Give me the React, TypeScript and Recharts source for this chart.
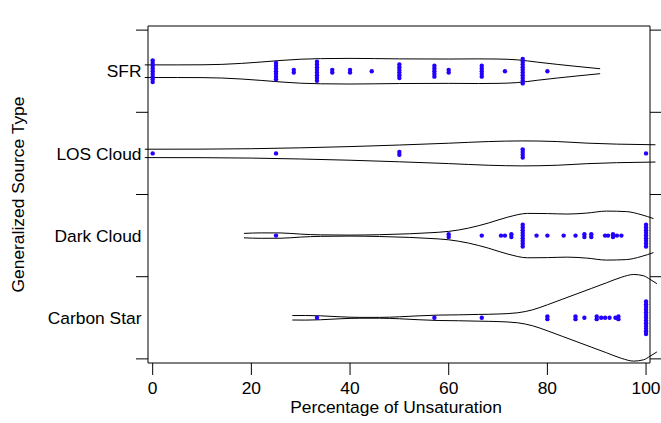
import React from 'react';
import { ComposedChart, Line, Scatter, XAxis, YAxis } from 'recharts';

// Source types, bottom to top (placed at y = 1..4)
const categories = ['Carbon Star', 'Dark Cloud', 'LOS Cloud', 'SFR'];

const xTicks = [0, 20, 40, 60, 80, 100];
const yTicks = [0.5, 1, 1.5, 2, 2.5, 3, 3.5, 4, 4.5];
const yBreaks = [0.5, 1.5, 2.5, 3.5, 4.5];

// Violin outlines: unsaturation (%) and half-width of the density band (category units)
const sfrOutline = [
  { x: -1.6, w: 0.077 }, { x: 5, w: 0.077 }, { x: 10, w: 0.078 }, { x: 14, w: 0.083 },
  { x: 18, w: 0.095 }, { x: 22, w: 0.112 }, { x: 26, w: 0.131 }, { x: 30, w: 0.146 },
  { x: 34, w: 0.153 }, { x: 40, w: 0.156 }, { x: 50, w: 0.15 }, { x: 60, w: 0.148 },
  { x: 66, w: 0.15 }, { x: 70, w: 0.148 }, { x: 74, w: 0.138 }, { x: 78, w: 0.11 },
  { x: 82, w: 0.083 }, { x: 86, w: 0.058 }, { x: 90.7, w: 0.03 },
];
const losOutline = [
  { x: -1.6, w: 0.051 }, { x: 10, w: 0.052 }, { x: 20, w: 0.057 }, { x: 30, w: 0.068 },
  { x: 40, w: 0.083 }, { x: 50, w: 0.102 }, { x: 60, w: 0.124 }, { x: 68, w: 0.144 },
  { x: 75, w: 0.152 }, { x: 82, w: 0.144 }, { x: 88, w: 0.125 }, { x: 94, w: 0.113 },
  { x: 101.9, w: 0.105 },
];
const darkOutline = [
  { x: 18.5, w: 0.027 }, { x: 22, w: 0.033 }, { x: 26, w: 0.032 }, { x: 30, w: 0.018 },
  { x: 34, w: 0.009 }, { x: 40, w: 0.006 }, { x: 46, w: 0.011 }, { x: 52, w: 0.022 },
  { x: 56, w: 0.034 }, { x: 60, w: 0.051 }, { x: 64, w: 0.091 }, { x: 68, w: 0.152 },
  { x: 72, w: 0.225 }, { x: 76, w: 0.27 }, { x: 80, w: 0.268 }, { x: 84, w: 0.262 },
  { x: 88, w: 0.274 }, { x: 92, w: 0.298 }, { x: 96, w: 0.292 }, { x: 99, w: 0.255 },
  { x: 101.5, w: 0.207 },
];
const carbonOutline = [
  { x: 28.3, w: 0.027 }, { x: 31, w: 0.028 }, { x: 34, w: 0.024 }, { x: 38, w: 0.012 },
  { x: 42, w: 0.005 }, { x: 46, w: 0.005 }, { x: 50, w: 0.012 }, { x: 54, w: 0.024 },
  { x: 58, w: 0.033 }, { x: 62, w: 0.036 }, { x: 66, w: 0.041 }, { x: 70, w: 0.046 },
  { x: 74, w: 0.061 }, { x: 77, w: 0.097 }, { x: 80, w: 0.158 }, { x: 83, w: 0.225 },
  { x: 86, w: 0.292 }, { x: 89, w: 0.359 }, { x: 92, w: 0.426 }, { x: 95, w: 0.493 },
  { x: 97.5, w: 0.527 }, { x: 99.5, w: 0.511 }, { x: 100.8, w: 0.468 }, { x: 102.2, w: 0.415 },
];

// Observed values: unsaturation (%) and number of sources at that value
const sfrValues = [
  { x: 0, n: 9 }, { x: 25, n: 7 }, { x: 28.6, n: 2 }, { x: 33.3, n: 8 }, { x: 36.4, n: 2 },
  { x: 40, n: 2 }, { x: 44.4, n: 1 }, { x: 50, n: 6 }, { x: 57.1, n: 5 }, { x: 60, n: 2 },
  { x: 66.7, n: 5 }, { x: 71.4, n: 1 }, { x: 75, n: 10 }, { x: 80, n: 1 },
];
const losValues = [
  { x: 0, n: 1 }, { x: 25, n: 1 }, { x: 50, n: 2 }, { x: 75, n: 4 }, { x: 100, n: 1 },
];
const darkValues = [
  { x: 25, n: 1 }, { x: 60, n: 2 }, { x: 66.7, n: 1 }, { x: 70.6, n: 1 }, { x: 71.4, n: 1 },
  { x: 72.7, n: 2 }, { x: 75, n: 9 }, { x: 77.8, n: 1 }, { x: 80, n: 1 }, { x: 83.3, n: 1 },
  { x: 85.7, n: 1 }, { x: 87.5, n: 2 }, { x: 88.9, n: 2 }, { x: 91.7, n: 1 }, { x: 92.3, n: 1 },
  { x: 93.3, n: 2 }, { x: 94.1, n: 1 }, { x: 95, n: 1 }, { x: 100, n: 9 },
];
const carbonValues = [
  { x: 33.3, n: 1 }, { x: 57.1, n: 1 }, { x: 66.7, n: 1 }, { x: 80, n: 2 }, { x: 85.7, n: 2 },
  { x: 87.5, n: 1 }, { x: 90, n: 2 }, { x: 90.9, n: 1 }, { x: 91.7, n: 1 }, { x: 92.6, n: 1 },
  { x: 93.8, n: 1 }, { x: 94.4, n: 2 }, { x: 100, n: 13 },
];

const groups = [
  { outline: carbonOutline, values: carbonValues },
  { outline: darkOutline, values: darkValues },
  { outline: losOutline, values: losValues },
  { outline: sfrOutline, values: sfrValues },
];

const X_DOMAIN: [number, number] = [-0.95, 100.8];
const Y_DOMAIN: [number, number] = [0.45, 4.55];
const STACK_STEP = 0.033; // vertical spacing of tied values
const POINT_COLOR = '#2200ff';
const FONT = "'Liberation Sans', Arial, Helvetica, sans-serif";
const FONT_SIZE = 17.4;

const edge = (center: number, pts: { x: number; w: number }[], side: number) =>
  pts.map((p) => ({ x: p.x, y: center + side * p.w }));

const stacked = (center: number, pts: { x: number; n: number }[]) => {
  const out: { x: number; y: number }[] = [];
  pts.forEach((p) => {
    for (let i = 0; i < p.n; i++) out.push({ x: p.x, y: center + (i - (p.n - 1) / 2) * STACK_STEP });
  });
  return out;
};

const BottomTick = (p: any) => (
  <g>
    <line x1={p.x} y1={p.y} x2={p.x} y2={p.y + 12} stroke="#000" />
    <text x={p.x} y={p.y + 30.5} textAnchor="middle" fontFamily={FONT} fontSize={FONT_SIZE} fill="#000">
      {p.payload.value}
    </text>
  </g>
);

const TopTick = (p: any) => <line x1={p.x} y1={p.y} x2={p.x} y2={p.y - 13} stroke="#000" />;

const LeftTick = (p: any) => {
  const v = p.payload.value;
  if (Number.isInteger(v)) {
    return (
      <text x={p.x - 6.5} y={p.y + 6.2} textAnchor="end" fontFamily={FONT} fontSize={FONT_SIZE} fill="#000">
        {categories[v - 1]}
      </text>
    );
  }
  return <line x1={p.x - 12} y1={p.y} x2={p.x} y2={p.y} stroke="#000" />;
};

const RightTick = (p: any) => <line x1={p.x} y1={p.y} x2={p.x + 11} y2={p.y} stroke="#000" />;

const XTitle = (p: any) => {
  const vb = p.viewBox || { x: 140, y: 355, width: 502, height: 60 };
  return (
    <text x={vb.x + vb.width / 2 - 3} y={vb.y + 50} textAnchor="middle" fontFamily={FONT} fontSize={FONT_SIZE} fill="#000">
      Percentage of Unsaturation
    </text>
  );
};

const YTitle = (p: any) => {
  const vb = p.viewBox || { x: 0, y: 18, width: 140, height: 337 };
  const x = vb.x + 16.2;
  const y = vb.y + vb.height / 2;
  return (
    <text x={x} y={y} transform={`rotate(-90, ${x}, ${y})`} textAnchor="middle" fontFamily={FONT} fontSize={FONT_SIZE} fill="#000">
      Generalized Source Type
    </text>
  );
};

const Point = (p: any) => <circle cx={p.cx} cy={p.cy} r={2.2} fill={POINT_COLOR} />;

export default function App() {
  return (
    <div style={{ position: 'absolute', left: 8, top: 8 }}>
      <style>{`html { overflow: hidden; } .violin-edge, .violin-edge * { clip-path: none !important; }`}</style>
      <ComposedChart width={653} height={415} margin={{ top: 0, right: 0, bottom: 0, left: 0 }}>
        <XAxis
          xAxisId="b"
          type="number"
          dataKey="x"
          domain={X_DOMAIN}
          allowDataOverflow
          ticks={xTicks}
          interval={0}
          height={60}
          axisLine={{ stroke: '#000' }}
          tickLine={false}
          tickSize={0}
          tickMargin={0}
          tick={BottomTick}
          label={XTitle}
        />
        <XAxis
          xAxisId="t"
          orientation="top"
          type="number"
          domain={X_DOMAIN}
          allowDataOverflow
          ticks={xTicks}
          interval={0}
          height={18}
          axisLine={{ stroke: '#000' }}
          tickLine={false}
          tickSize={0}
          tickMargin={0}
          tick={TopTick}
        />
        <YAxis
          yAxisId="l"
          type="number"
          dataKey="y"
          domain={Y_DOMAIN}
          allowDataOverflow
          ticks={yTicks}
          interval={0}
          width={140}
          axisLine={{ stroke: '#000' }}
          tickLine={false}
          tickSize={0}
          tickMargin={0}
          tick={LeftTick}
          label={YTitle}
        />
        <YAxis
          yAxisId="r"
          orientation="right"
          type="number"
          domain={Y_DOMAIN}
          allowDataOverflow
          ticks={yBreaks}
          interval={0}
          width={11}
          axisLine={{ stroke: '#000' }}
          tickLine={false}
          tickSize={0}
          tickMargin={0}
          tick={RightTick}
        />
        {groups.map((g, i) => (
          <Line
            key={`up-${i}`}
            className="violin-edge"
            xAxisId="b"
            yAxisId="l"
            data={edge(i + 1, g.outline, 1)}
            dataKey="y"
            type="monotone"
            stroke="#000"
            strokeWidth={1}
            dot={false}
            activeDot={false}
            isAnimationActive={false}
          />
        ))}
        {groups.map((g, i) => (
          <Line
            key={`lo-${i}`}
            className="violin-edge"
            xAxisId="b"
            yAxisId="l"
            data={edge(i + 1, g.outline, -1)}
            dataKey="y"
            type="monotone"
            stroke="#000"
            strokeWidth={1}
            dot={false}
            activeDot={false}
            isAnimationActive={false}
          />
        ))}
        {groups.map((g, i) => (
          <Scatter
            key={`pts-${i}`}
            xAxisId="b"
            yAxisId="l"
            data={stacked(i + 1, g.values)}
            shape={Point}
            isAnimationActive={false}
          />
        ))}
      </ComposedChart>
    </div>
  );
}
